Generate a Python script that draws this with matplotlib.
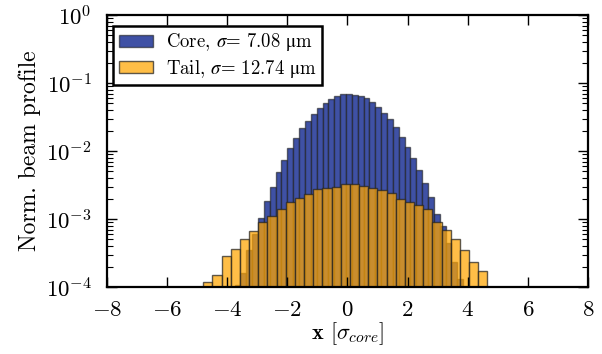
import numpy as np
import matplotlib
matplotlib.use('Agg')
import matplotlib.pyplot as plt

plt.rcParams['font.family'] = ['cmr10', 'DejaVu Serif']
plt.rcParams['mathtext.fontset'] = 'cm'
plt.rcParams['axes.formatter.use_mathtext'] = True
plt.rcParams['axes.unicode_minus'] = True

# normalised histogram heights
core_heights = [1.07e-4, 1.58e-4, 3.55e-4, 6.0e-4, 1.05e-3, 1.86e-3, 2.99e-3, 4.85e-3,
                7.3e-3, 1.09e-2, 1.53e-2, 2.15e-2, 2.76e-2, 3.46e-2, 4.34e-2, 5.14e-2,
                5.82e-2, 6.44e-2, 6.81e-2, 6.81e-2, 6.67e-2, 6.44e-2, 5.96e-2, 5.2e-2,
                4.44e-2, 3.66e-2, 2.92e-2, 2.23e-2, 1.63e-2, 1.16e-2, 7.98e-3, 5.2e-3,
                3.35e-3, 2.09e-3, 1.2e-3, 7.9e-4, 4.5e-4, 2.34e-4, 1.32e-4]
tail_heights = [1.17e-4, 1.51e-4, 2.82e-4, 3.63e-4, 5.0e-4, 6.76e-4, 8.9e-4, 1.10e-3,
                1.41e-3, 1.76e-3, 2.04e-3, 2.34e-3, 2.75e-3, 2.88e-3, 2.99e-3, 3.24e-3,
                3.24e-3, 3.05e-3, 2.88e-3, 2.63e-3, 2.4e-3, 2.0e-3, 1.76e-3, 1.58e-3,
                1.38e-3, 8.9e-4, 6.9e-4, 5.0e-4, 3.47e-4, 2.34e-4, 1.74e-4]
core_label = r'Core, $\sigma$= 7.08 $\mathrm{\mu}$m'
tail_label = r'Tail, $\sigma$= 12.74 $\mathrm{\mu}$m'

# bin layout (in units of sigma_core)
core_w, core_x0 = 0.195, -3.755
tail_w, tail_x0 = 0.305, -4.80
core_edges = core_x0 + core_w * np.arange(len(core_heights))
tail_edges = tail_x0 + tail_w * np.arange(len(tail_heights))

fig = plt.figure(figsize=(6.02, 3.54), dpi=100)
ax = fig.add_axes([0.1777, 0.1893, 0.799, 0.7683])

ax.bar(core_edges, core_heights, width=core_w, align='edge', color='#3f51a5',
       edgecolor=(0.1, 0.1, 0.1, 0.6), linewidth=1.0, label=core_label)
ax.bar(tail_edges, tail_heights, width=tail_w, align='edge', color='#ffa500', alpha=0.72,
       edgecolor='#222222', linewidth=1.0, label=tail_label)

ax.set_yscale('log')
ax.set_xlim(-8, 8)
ax.set_ylim(1e-4, 1)
ax.set_xticks(np.arange(-8, 9, 2))

ax.tick_params(which='both', direction='in', top=True, right=True, labelsize=16.5)
ax.tick_params(which='major', length=7, width=1.0)
ax.tick_params(which='minor', length=4, width=0.8)
ax.tick_params(axis='x', which='major', pad=10)
ax.tick_params(axis='y', which='major', pad=11)
for s in ax.spines.values():
    s.set_linewidth(1.6)

ax.set_xlabel(r'$\mathbf{x}$ [$\sigma_{core}$]', fontsize=16, labelpad=0)
ax.set_ylabel('Norm. beam profile', fontsize=17, labelpad=3)

leg = ax.legend(loc='upper left', bbox_to_anchor=(0.005, 0.975), fontsize=13.5,
                fancybox=False, framealpha=1, edgecolor='black', handlelength=1.8,
                handleheight=0.6, borderpad=0.3, labelspacing=0.25, handletextpad=0.7,
                borderaxespad=0.2)
leg.get_frame().set_linewidth(1.8)
for t in leg.get_texts():
    t.set_math_fontfamily('stix')

fig.savefig('out.png', dpi=100)
